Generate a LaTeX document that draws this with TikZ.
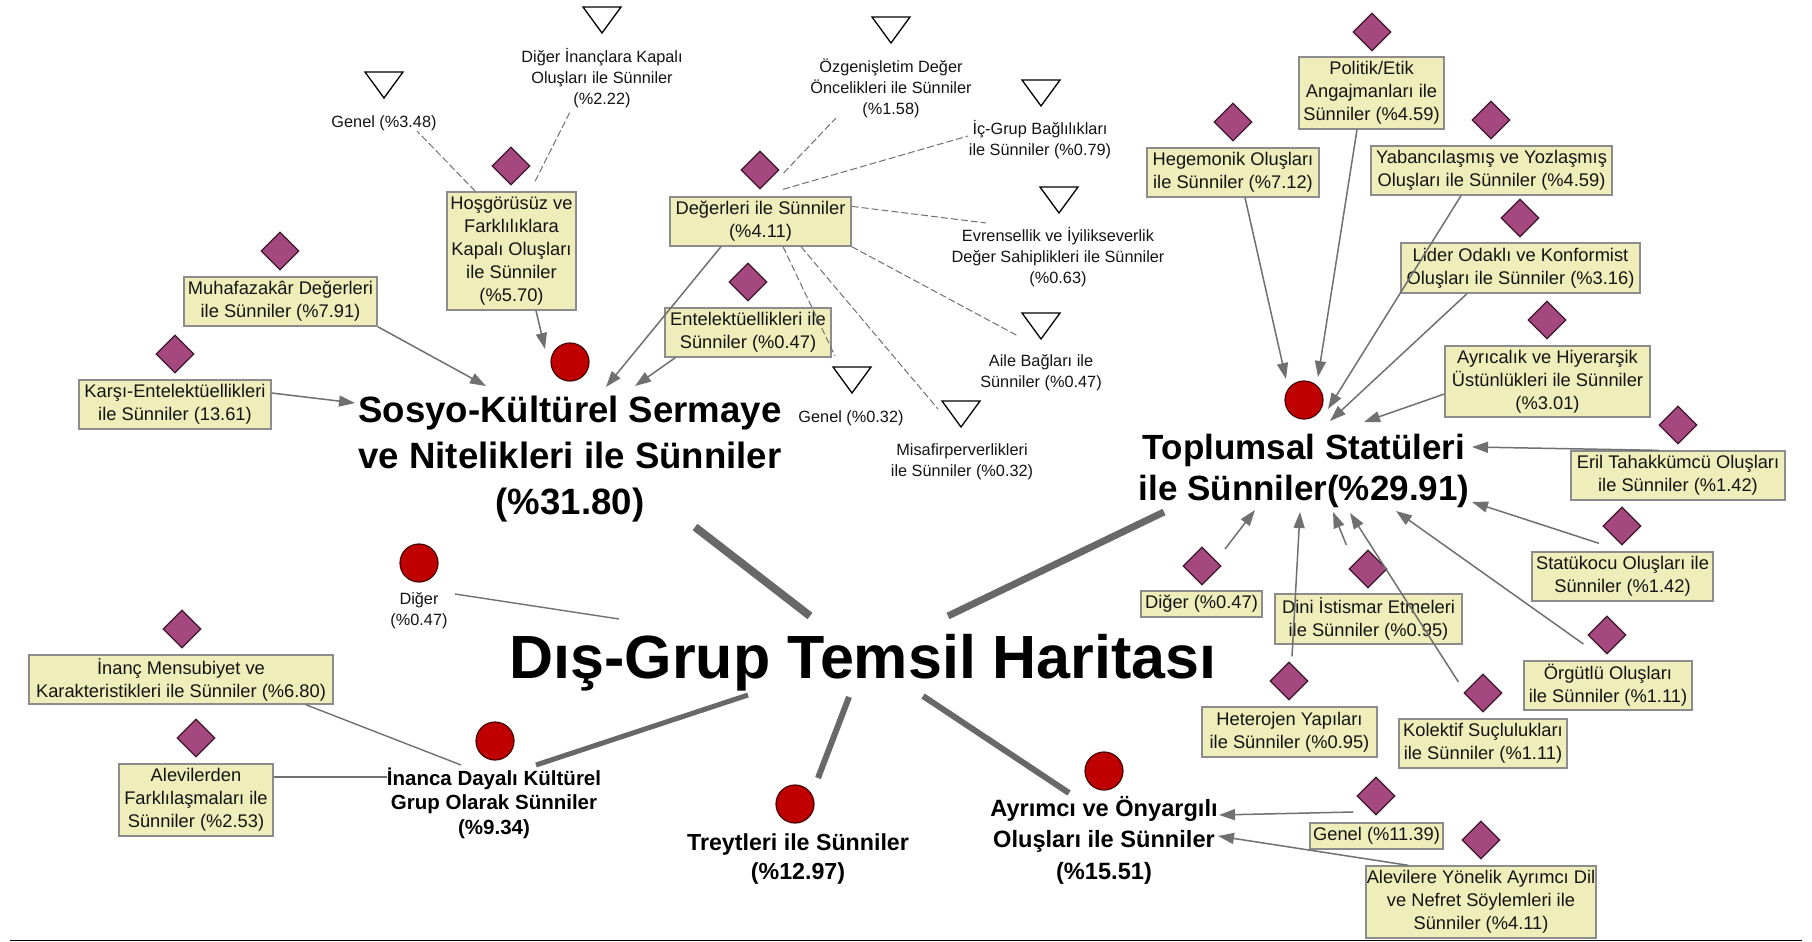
\documentclass[tikz,border=0pt]{standalone}
\usepackage{fontspec}
\setmainfont{Liberation Sans}
\usetikzlibrary{shapes.geometric,arrows.meta,calc}
\definecolor{boxfill}{RGB}{239,237,185}
\definecolor{boxline}{RGB}{140,140,140}
\definecolor{dmfill}{RGB}{166,72,128}
\definecolor{dmline}{RGB}{60,25,45}
\definecolor{rdfill}{RGB}{192,0,0}
\definecolor{rdline}{RGB}{70,0,0}
\definecolor{conn}{RGB}{112,112,112}
\definecolor{thk}{RGB}{104,104,104}
\definecolor{txt}{RGB}{20,20,20}
\tikzset{
 bx/.style={draw=boxline, fill=boxfill, line width=1.3pt, inner sep=0pt, align=center,
   font=\fontsize{18.3}{23}\selectfont, text=txt},
 dm/.style={diamond, aspect=1, draw=dmline, fill=dmfill, line width=1.2pt,
   minimum width=38pt, minimum height=38pt, inner sep=0pt},
 rd/.style={circle, draw=rdline, fill=rdfill, line width=1.2pt, minimum size=38pt, inner sep=0pt},
 lbl/.style={align=center, inner sep=0pt, font=\fontsize{16.3}{21}\selectfont, text=txt},
 big/.style={align=center, inner sep=0pt, text=black},
 arr/.style={draw=conn, line width=1.5pt, -{Triangle[length=16pt,width=11pt]}},
 ln/.style={draw=conn, line width=1.4pt},
 dsh/.style={draw=conn, line width=1pt, dash pattern=on 7pt off 3pt},
 thkline/.style={draw=thk},
 tri/.pic={\draw[draw=black, fill=white, line width=1.3pt, line join=miter] (-19,-13) -- (19,-13) -- (0,13) -- cycle;}
}
\begin{document}
\begin{tikzpicture}[x=1pt,y=-1pt]
\useasboundingbox (0,0) rectangle (1812,942);
\fill[white] (0,0) rectangle (1812,942);

% ---------- main title and cluster labels ----------
\node[big, anchor=base, font=\bfseries\fontsize{61}{72}\selectfont] (nTitle) at (863,678) {Dış-Grup Temsil Haritası};
\node[big, font=\bfseries\fontsize{36.6}{46}\selectfont] (nSos) at (570,459) {Sosyo-Kültürel Sermaye\\ve Nitelikleri ile Sünniler\\(\%31.80)};
\node[big, font=\bfseries\fontsize{35}{41.5}\selectfont] (nTop) at (1304,471) {Toplumsal Statüleri\\ile Sünniler(\%29.91)};
\node[big, font=\bfseries\fontsize{20.5}{24.5}\selectfont] (nIna) at (494,803) {İnanca Dayalı Kültürel\\Grup Olarak Sünniler\\(\%9.34)};
\node[big, font=\bfseries\fontsize{23.2}{29}\selectfont] (nTre) at (798,859) {Treytleri ile Sünniler\\(\%12.97)};
\node[big, font=\bfseries\fontsize{23.6}{31.5}\selectfont] (nAyr) at (1104,840) {Ayrımcı ve Önyargılı\\Oluşları ile Sünniler\\(\%15.51)};
\node[lbl] (nDigL) at (419,611) {Diğer\\(\%0.47)};

% ---------- red circles ----------
\node[rd] (rSos) at (570,362) {};
\node[rd] (rTop) at (1304,400) {};
\node[rd] (rDig) at (419,563) {};
\node[rd] (rIna) at (495,741) {};
\node[rd] (rTre) at (795,804) {};
\node[rd] (rAyr) at (1104,771) {};

% ---------- triangles and their labels ----------
\pic at (384,85) {tri};
\pic at (602,20) {tri};
\pic at (891,30) {tri};
\pic at (1041,93) {tri};
\pic at (1059,200) {tri};
\pic at (1041,326) {tri};
\pic at (961,414) {tri};
\pic at (852,380) {tri};
\node[lbl, anchor=base] (lGenA) at (384,127) {Genel (\%3.48)};
\node[lbl] (lDigI) at (602,78) {Diğer İnançlara Kapalı\\Oluşları ile Sünniler\\(\%2.22)};
\node[lbl] (lOzg) at (891,88) {Özgenişletim Değer\\Öncelikleri ile Sünniler\\(\%1.58)};
\node[lbl] (lIcG) at (1040,140) {İç-Grup Bağlılıkları\\ile Sünniler (\%0.79)};
\node[lbl] (lEvr) at (1058,257) {Evrensellik ve İyilikseverlik\\Değer Sahiplikleri ile Sünniler\\(\%0.63)};
\node[lbl] (lAil) at (1041,373) {Aile Bağları ile\\Sünniler (\%0.47)};
\node[lbl] (lMis) at (962,462) {Misafirperverlikleri\\ile Sünniler (\%0.32)};
\node[lbl, anchor=base] (lGenB) at (851,422) {Genel (\%0.32)};

% ---------- diamonds ----------
\node[dm] (dMuh) at (280,251) {};
\node[dm] (dKar) at (175,354) {};
\node[dm] (dHos) at (511,166) {};
\node[dm] (dDeg) at (760,170) {};
\node[dm] (dEnt) at (748,282) {};
\node[dm] (dHeg) at (1233,122) {};
\node[dm] (dPol) at (1372,32) {};
\node[dm] (dYab) at (1491,120) {};
\node[dm] (dLid) at (1520,218) {};
\node[dm] (dAyr) at (1547,320) {};
\node[dm] (dEril) at (1678,425) {};
\node[dm] (dSta) at (1622,526) {};
\node[dm] (dOrg) at (1607,635) {};
\node[dm] (dKol) at (1483,693) {};
\node[dm] (dHet) at (1289,681) {};
\node[dm] (dDini) at (1368,569) {};
\node[dm] (dDig) at (1202,566) {};
\node[dm] (dGen) at (1376,796) {};
\node[dm] (dAlv) at (1481,840) {};
\node[dm] (dInM) at (182,629) {};
\node[dm] (dAlvd) at (196,738) {};

% ---------- boxes ----------
\node[bx, minimum width=193pt, minimum height=49pt] (bMuh) at (280.5,301.5) {Muhafazakâr Değerleri\\ile Sünniler (\%7.91)};
\node[bx, minimum width=192pt, minimum height=49pt] (bKar) at (175,404.5) {Karşı-Entelektüellikleri\\ile Sünniler (13.61)};
\node[bx, minimum width=129pt, minimum height=118pt] (bHos) at (511.5,251) {Hoşgörüsüz ve\\Farklılıklara\\Kapalı Oluşları\\ile Sünniler\\(\%5.70)};
\node[bx, minimum width=181pt, minimum height=49pt] (bDeg) at (760.5,221.5) {Değerleri ile Sünniler\\(\%4.11)};
\node[bx, minimum width=166pt, minimum height=49pt] (bEnt) at (748,332.5) {Entelektüellikleri ile\\Sünniler (\%0.47)};
\node[bx, minimum width=172pt, minimum height=49pt] (bHeg) at (1233,172.5) {Hegemonik Oluşları\\ile Sünniler (\%7.12)};
\node[bx, minimum width=145pt, minimum height=72pt] (bPol) at (1371.5,93) {Politik/Etik\\Angajmanları ile\\Sünniler (\%4.59)};
\node[bx, minimum width=241pt, minimum height=49pt] (bYab) at (1491.5,170.5) {Yabancılaşmış ve Yozlaşmış\\Oluşları ile Sünniler (\%4.59)};
\node[bx, minimum width=239pt, minimum height=50pt] (bLid) at (1520.5,268) {Lider Odaklı ve Konformist\\Oluşları ile Sünniler (\%3.16)};
\node[bx, minimum width=205pt, minimum height=71pt] (bAyr) at (1547.5,381.5) {Ayrıcalık ve Hiyerarşik\\Üstünlükleri ile Sünniler\\(\%3.01)};
\node[bx, minimum width=214pt, minimum height=49pt] (bEril) at (1678,475.5) {Eril Tahakkümcü Oluşları\\ile Sünniler (\%1.42)};
\node[bx, minimum width=181pt, minimum height=49pt] (bSta) at (1622.5,576.5) {Statükocu Oluşları ile\\Sünniler (\%1.42)};
\node[bx, minimum width=168pt, minimum height=49pt] (bOrg) at (1608,685.5) {Örgütlü Oluşları\\ile Sünniler (\%1.11)};
\node[bx, minimum width=168pt, minimum height=49pt] (bKol) at (1483,743.5) {Kolektif Suçlulukları\\ile Sünniler (\%1.11)};
\node[bx, minimum width=175pt, minimum height=50pt] (bHet) at (1289.5,732) {Heterojen Yapıları\\ile Sünniler (\%0.95)};
\node[bx, minimum width=187pt, minimum height=50pt] (bDini) at (1368.5,619) {Dini İstismar Etmeleri\\ile Sünniler (\%0.95)};
\node[bx, minimum width=121pt, minimum height=26pt] (bDig) at (1201.5,604) {Diğer (\%0.47)};
\node[bx, minimum width=133pt, minimum height=26pt] (bGen) at (1376.5,836) {Genel (\%11.39)};
\node[bx, minimum width=230pt, minimum height=72pt] (bAlv) at (1481,902) {Alevilere Yönelik Ayrımcı Dil\\ve Nefret Söylemleri ile\\Sünniler (\%4.11)};
\node[bx, minimum width=304pt, minimum height=49pt] (bInM) at (181,679.5) {İnanç Mensubiyet ve\\Karakteristikleri ile Sünniler (\%6.80)};
\node[bx, minimum width=154pt, minimum height=72pt] (bAlvd) at (196,800) {Alevilerden\\Farklılaşmaları ile\\Sünniler (\%2.53)};

% ---------- connector end points ----------
\coordinate (tMuh) at (486,386);
\coordinate (tKar) at (355,403);
\coordinate (tHos) at (545,349);
\coordinate (tDeg) at (606,387);
\coordinate (tEnt) at (635,386);
\coordinate (tHeg) at (1286,379);
\coordinate (tPol) at (1318,377);
\coordinate (tYab) at (1328,409);
\coordinate (tLid) at (1330,421);
\coordinate (tAyr) at (1364,422);
\coordinate (tEril) at (1472,447);
\coordinate (tSta) at (1472,502);
\coordinate (tOrg) at (1396,511);
\coordinate (tKol) at (1350,513);
\coordinate (tDini) at (1333,512);
\coordinate (tHet) at (1300,512);
\coordinate (tDig) at (1255,510);
\coordinate (tGen) at (1219,815);
\coordinate (tAlv) at (1218,836);
\coordinate (eInM) at (461,765);
\coordinate (eAlvd) at (387,777);
\coordinate (eDigL) at (619,619);
\coordinate (sDigL) at (455,594);
\coordinate (eGenA) at (417,131);
\coordinate (eDigI) at (571,110);
\coordinate (eOzg) at (836,118);
\coordinate (eIcG) at (968,136);
\coordinate (eEvr) at (986,223);
\coordinate (eAil) at (1018,336);
\coordinate (eMis) at (938,409);
\coordinate (eGenB) at (835,356);
\coordinate (k1a) at (695,527); \coordinate (k1b) at (810,616);
\coordinate (k2a) at (948,616); \coordinate (k2b) at (1164,512);
\coordinate (k3a) at (536,765); \coordinate (k3b) at (748,695);
\coordinate (k4a) at (818,778); \coordinate (k4b) at (849,697);
\coordinate (k5a) at (923,696); \coordinate (k5b) at (1069,793);

% ---------- dashed connectors ----------
\draw[dsh] ([xshift=29pt]bHos.north west) -- (eGenA);
\draw[dsh] ([xshift=23.5pt,yshift=10pt]bHos.north) -- (eDigI);
\draw[dsh] ([xshift=4pt,yshift=-3pt]dDeg.east) -- (eOzg);
\draw[dsh] ([xshift=22.5pt,yshift=7pt]bDeg.north) -- (eIcG);
\draw[dsh] ([yshift=-10pt]bDeg.north east) -- (eEvr);
\draw[dsh] (bDeg.south east) -- (eAil);
\draw[dsh] ([xshift=40.5pt]bDeg.south) -- (eMis);
\draw[dsh] ([xshift=22.5pt]bDeg.south) -- (eGenB);

% ---------- solid arrows ----------
\draw[arr] (bMuh.south east) -- (tMuh);
\draw[arr] ([yshift=11.5pt]bKar.east) -- (tKar);
\draw[arr] ([xshift=24.5pt]bHos.south) -- (tHos);
\draw[arr] ([xshift=-39.5pt]bDeg.south) -- (tDeg);
\draw[arr] ([xshift=11pt]bEnt.south west) -- (tEnt);
\draw[arr] ([xshift=12pt]bHeg.south) -- (tHeg);
\draw[arr] ([xshift=-14.5pt]bPol.south) -- (tPol);
\draw[arr] ([xshift=-30.5pt]bYab.south) -- (tYab);
\draw[arr] ([xshift=-53.5pt]bLid.south) -- (tLid);
\draw[arr] ([yshift=-12.5pt]bAyr.west) -- (tAyr);
\draw[arr] ([xshift=-19pt]bEril.north) -- (tEril);
\draw[arr] ([xshift=-23.5pt,yshift=8pt]bSta.north) -- (tSta);
\draw[arr] ([xshift=-4pt,yshift=-9pt]dOrg.west) -- (tOrg);
\draw[arr] ([xshift=-5pt,yshift=11pt]dKol.west) -- (tKol);
\draw[arr] ([xshift=-2pt,yshift=24pt]dDini.west) -- (tDini);
\draw[arr] ([xshift=3pt,yshift=5pt]dHet.north) -- (tHet);
\draw[arr] ([xshift=23pt,yshift=17pt]dDig.center) -- (tDig);
\draw[arr] ([xshift=-3pt,yshift=-16pt]dGen.west) -- (tGen);
\draw[arr] ([xshift=43pt]bAlv.north west) -- (tAlv);

% ---------- plain lines ----------
\draw[ln] ([xshift=-28pt]bInM.south east) -- (eInM);
\draw[ln] ([yshift=23pt]bAlvd.east) -- (eAlvd);
\draw[ln] (sDigL) -- (eDigL);

% ---------- thick links to the title ----------
\draw[thkline, line width=8pt] (k1a) -- (k1b);
\draw[thkline, line width=7pt] (k2a) -- (k2b);
\draw[thkline, line width=5pt] (k3a) -- (k3b);
\draw[thkline, line width=6pt] (k4a) -- (k4b);
\draw[thkline, line width=6pt] (k5a) -- (k5b);

% ---------- bottom rule ----------
\draw[line width=1.5pt] (10,940.5) -- (1802,940.5);
\end{tikzpicture}
\end{document}
